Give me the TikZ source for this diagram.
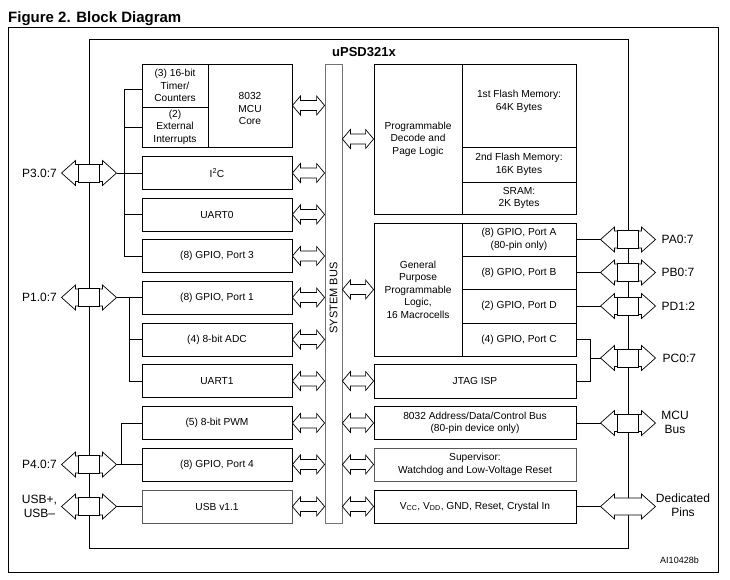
\documentclass[tikz,border=0pt]{standalone}
\usepackage{fontspec}
\setmainfont{Liberation Sans}
\usetikzlibrary{calc}
\begin{document}
\begin{tikzpicture}[x=1pt,y=-1pt,
  ln/.style={line width=0.8pt},
  blk/.style={draw, line width=0.8pt, inner sep=0pt, align=center,
    font=\fontsize{10.2}{12.5}\selectfont, minimum width=150pt, minimum height=33pt},
  rblk/.style={blk, minimum width=202pt},
  gblk/.style={draw=black!65},
  txt/.style={inner sep=0pt, align=center, font=\fontsize{10.2}{12.5}\selectfont},
  fat/.style n args={3}{to path={let \p1=(\tikztostart), \p2=(\tikztotarget) in
    (\x1,\y1) -- (\x1+#1,\y1+#2) -- (\x1+#1,\y1+#3) -- (\x2-#1,\y1+#3) -- (\x2-#1,\y1+#2)
    -- (\x2,\y1) -- (\x2-#1,\y1-#2) -- (\x2-#1,\y1-#3) -- (\x1+#1,\y1-#3) -- (\x1+#1,\y1-#2) -- cycle}},
  busarr/.style={draw, fill=white, line width=0.7pt, fat={8pt}{9.5pt}{5pt}},
  pinarr/.style={draw, fill=white, line width=0.7pt, fat={14pt}{12.5pt}{8.5pt}},
  buf/.style={draw, fill=white, line width=0.8pt, minimum width=21pt, minimum height=18pt, inner sep=0pt},
  pinlbl/.style={font=\fontsize{12}{14}\selectfont, inner sep=0pt, align=center}
]
\useasboundingbox (0,0) rectangle (730,579);
% title and frames
\node[anchor=base west, inner sep=0pt, font=\fontsize{15}{18}\selectfont\bfseries] (title) at (8,22) {Figure 2. Block Diagram};
\node[draw, line width=0.9pt, minimum width=710pt, minimum height=545pt, inner sep=0pt] (frame) at (363,299.5) {};
\node[draw, line width=0.8pt, minimum width=539pt, minimum height=509pt, inner sep=0pt] (chip) at (358.5,293.5) {};
\node[font=\fontsize{13}{15}\selectfont\bfseries, inner sep=0pt] (chipname) at (364,52) {uPSD321x};
\node[font=\fontsize{9}{11}\selectfont, inner sep=0pt] (ref) at (679.5,560) {AI10428b};

% system bus
\node[draw=black!55, line width=0.8pt, minimum width=17pt, minimum height=459pt, inner sep=0pt] (bus) at (333.5,293.5) {};
\node[rotate=90, font=\fontsize{11}{13}\selectfont, inner sep=0pt] (buslbl) at (333.5,298) {SYSTEM BUS};

% left blocks
\node[blk, minimum width=66pt, minimum height=43pt] (timer) at (175,85.5) {(3) 16-bit\\Timer/\\Counters};
\node[blk, minimum width=66pt, minimum height=40pt] (intr) at (175,127) {(2)\\External\\Interrupts};
\node[blk, minimum width=84pt, minimum height=83pt] (core) at (250,105.5) {};
\node[txt] (coretxt) at (250,108.5) {8032\\MCU\\Core};
\node[blk] (i2c) at (217,173) {I\textsuperscript{2}C};
\node[blk] (uart0) at (217,214.5) {UART0};
\node[blk] (port3) at (217,256) {(8) GPIO, Port 3};
\node[blk] (port1) at (217,297.5) {(8) GPIO, Port 1};
\node[blk] (adc) at (217,339.5) {(4) 8-bit ADC};
\node[blk] (uart1) at (217,381) {UART1};
\node[blk] (pwm) at (217,423) {(5) 8-bit PWM};
\node[blk] (port4) at (217,464.5) {(8) GPIO, Port 4};
\node[blk, gblk] (usb) at (217,506.5) {USB v1.1};

% right blocks
\node[blk, minimum width=88pt, minimum height=150pt] (decode) at (418,139) {Programmable\\Decode and\\Page Logic};
\node[blk, minimum width=114pt, minimum height=83pt] (flash1) at (519,105.5) {};
\node[txt] (flash1txt) at (519,101.5) {1st Flash Memory:\\64K Bytes};
\node[blk, minimum width=114pt, minimum height=35pt] (flash2) at (519,164.5) {2nd Flash Memory:\\16K Bytes};
\node[blk, minimum width=114pt, minimum height=32pt] (sram) at (519,198) {SRAM:\\2K Bytes};
\node[blk, minimum width=88pt, minimum height=133pt] (gpl) at (418,289.5) {General\\Purpose\\Programmable\\Logic,\\16 Macrocells};
\node[blk, minimum width=114pt, minimum height=33pt] (portA) at (519,239.5) {(8) GPIO, Port A\\(80-pin only)};
\node[blk, minimum width=114pt, minimum height=33pt] (portB) at (519,272.5) {(8) GPIO, Port B};
\node[blk, minimum width=114pt, minimum height=34pt] (portD) at (519,306) {(2) GPIO, Port D};
\node[blk, minimum width=114pt, minimum height=33pt] (portC) at (519,339.5) {(4) GPIO, Port C};
\node[rblk, minimum height=34pt] (jtag) at (475,381) {JTAG ISP};
\node[rblk] (abus) at (475,423) {8032 Address/Data/Control Bus\\(80-pin device only)};
\node[rblk, gblk] (sup) at (475,464.5) {Supervisor:\\Watchdog and Low-Voltage Reset};
\node[rblk] (vcc) at (475,506.5) {V\textsubscript{CC}, V\textsubscript{DD}, GND, Reset, Crystal In};

% bus arrows, left side
\foreach \k in {core,i2c,uart0,port3,port1,adc,uart1,pwm,port4,usb}
  \draw[busarr] (\k.east) to (\k.east -| bus.west);
% bus arrows, right side
\foreach \k in {decode,gpl,jtag,abus,sup,vcc}
  \draw[busarr] (bus.east |- \k.west) to (\k.west);

% left pins
\foreach \b/\yy in {b3/173, b1/297.5, b4/464.5, bu/506.5} {
  \coordinate (\b) at (89,\yy);
  \coordinate (\b l) at (61.5,\yy);
  \coordinate (\b r) at (116.5,\yy);
  \draw[pinarr] (\b l) to (\b r);
  \node[buf] (\b box) at (\b) {};
}
\node[pinlbl, anchor=east] (lp3) at ($(b3l)+(-4.5,0)$) {P3.0:7};
\node[pinlbl, anchor=east] (lp1) at ($(b1l)+(-4.5,0)$) {P1.0:7};
\node[pinlbl, anchor=east] (lp4) at ($(b4l)+(-4.5,0)$) {P4.0:7};
\node[pinlbl] (lpu) at (39.5,506) {USB+,\\USB\textendash};

% left wiring
\draw[ln] (b3r) -- (i2c.west);
\coordinate (v3) at (124.5,89);
\draw[ln] (timer.west |- v3) -- (v3) -- (v3 |- port3.west) -- (port3.west);
\draw[ln] (v3 |- intr.west) -- (intr.west);
\draw[ln] (v3 |- uart0.west) -- (uart0.west);
\draw[ln] (b1r) -- (port1.west);
\coordinate (v1) at (129,297.5);
\draw[ln] (v1) -- (v1 |- uart1.west) -- (uart1.west);
\draw[ln] (v1 |- adc.west) -- (adc.west);
\draw[ln] (b4r) -- (port4.west);
\coordinate (v4) at (121,464.5);
\draw[ln] (v4) -- (v4 |- pwm.west) -- (pwm.west);
\draw[ln] (bur) -- (usb.west);

% right pins
\foreach \b/\yy in {pa/239.5, pb/272.5, pd/306, pc/358, pm/423, pp/506.5} {
  \coordinate (\b) at (628,\yy);
  \coordinate (\b l) at (600.5,\yy);
  \coordinate (\b r) at (655.5,\yy);
  \draw[pinarr] (\b l) to (\b r);
}
\foreach \b in {pa,pb,pd,pc,pm}
  \node[buf] (\b box) at (\b) {};
\node[pinlbl, anchor=west] (lpa) at ($(par)+(6,0)$) {PA0:7};
\node[pinlbl, anchor=west] (lpb) at ($(pbr)+(6,0)$) {PB0:7};
\node[pinlbl, anchor=west] (lpd) at ($(pdr)+(6,0)$) {PD1:2};
\node[pinlbl, anchor=west] (lpc) at ($(pcr)+(7,0)$) {PC0:7};
\node[pinlbl] (lpm) at (675,422) {MCU\\Bus};
\node[pinlbl] (lpp) at (683,505) {Dedicated\\Pins};

% right wiring
\draw[ln] (portA.east) -- (pal);
\draw[ln] (portB.east) -- (pbl);
\draw[ln] (portD.east) -- (pdl);
\coordinate (vc) at (590.5,358);
\draw[ln] (portC.east) -- (vc |- portC.east) -- (vc |- jtag.east) -- (jtag.east);
\draw[ln] (vc) -- (pcl);
\draw[ln] (abus.east) -- (pml);
\draw[ln] (vcc.east) -- (ppl);
\end{tikzpicture}
\end{document}
